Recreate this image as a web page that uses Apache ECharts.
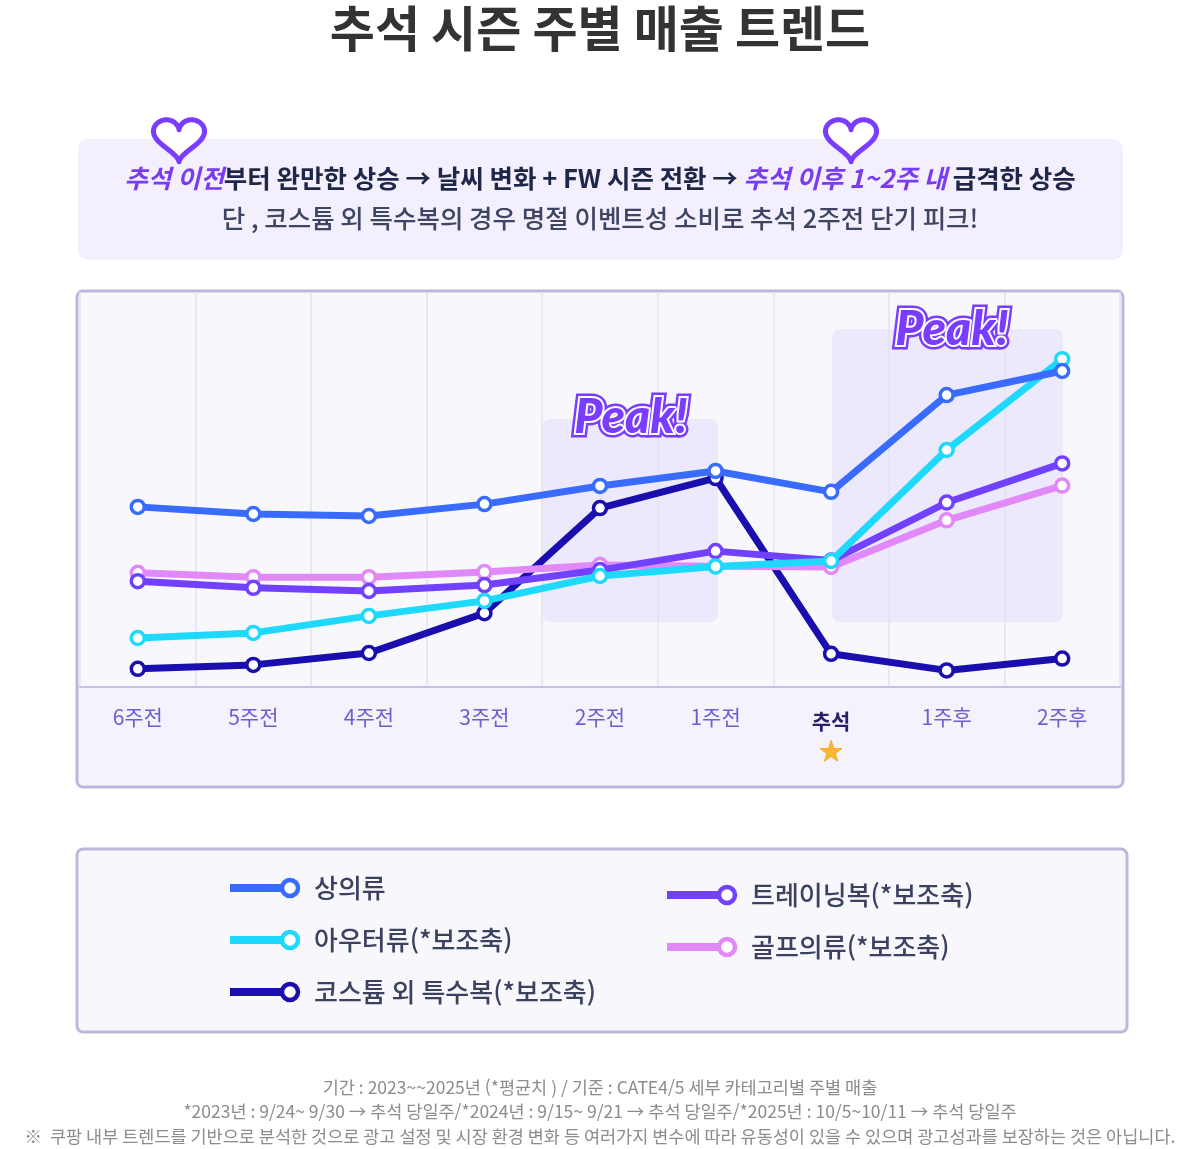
<!DOCTYPE html>
<html lang="ko">
<head>
<meta charset="UTF-8">
<title>추석 시즌 주별 매출 트렌드</title>
<script src="https://cdn.jsdelivr.net/npm/echarts@6/dist/echarts.min.js"></script>
<style>
  html, body { margin: 0; padding: 0; background: #fff; }
  #chart { width: 1200px; height: 1149px; }
</style>
</head>
<body>
<div id="chart"></div>
<script>
// 주차 (x축)
var weeks = ['6주전', '5주전', '4주전', '3주전', '2주전', '1주전', '추석', '1주후', '2주후'];

// 상대 지수 (그림에서 읽은 값, 0~100)
var topsData     = [45.6, 43.8, 43.3, 46.3, 50.9, 54.7, 49.4, 73.9, 80.0];
var outerData    = [12.4, 13.7, 18.0, 21.8, 28.1, 30.5, 31.9, 60.0, 83.0];
var costumeData  = [4.6, 5.6, 8.6, 18.7, 45.3, 52.9, 8.4, 4.2, 7.2];
var trainingData = [26.8, 25.1, 24.3, 25.8, 29.6, 34.4, 32.0, 46.7, 56.6];
var golfData     = [28.9, 27.8, 27.8, 29.1, 30.9, 30.6, 30.4, 42.2, 51.0];

var seriesNames  = ['상의류', '아우터류(*보조축)', '코스튬 외 특수복(*보조축)', '트레이닝복(*보조축)', '골프의류(*보조축)'];
var seriesColors = ['#3a6bff', '#1ed9fc', '#1a0fae', '#7141ff', '#e189f8'];
var seriesZ      = [6, 5, 2, 4, 3];
var seriesData   = [topsData, outerData, costumeData, trainingData, golfData];

var FONT = '"Noto Sans CJK KR", "Noto Sans", sans-serif';

var myChart = echarts.init(document.getElementById('chart'));

var series = seriesNames.map(function (name, i) {
    return {
        name: name,
        type: 'line',
        data: seriesData[i],
        z: seriesZ[i],
        symbol: 'circle',
        symbolSize: 13,
        lineStyle: { color: seriesColors[i], width: 7 },
        itemStyle: { color: '#fff', borderColor: seriesColors[i], borderWidth: 3.5 },
        emphasis: { disabled: true }
    };
});

// 하트 아이콘 (외곽선)
function heart(cx, cy) {
    var pts = [];
    for (var k = 0; k <= 72; k++) {
        var t = k / 72 * Math.PI * 2;
        var hx = 16 * Math.pow(Math.sin(t), 3);
        var hy = 13 * Math.cos(t) - 5 * Math.cos(2 * t) - 2 * Math.cos(3 * t) - Math.cos(4 * t);
        pts.push([cx + hx * 1.6, cy - hy * 1.45]);
    }
    return {
        type: 'polygon',
        shape: { points: pts },
        style: { fill: '#fff', stroke: '#7a3cff', lineWidth: 5, lineJoin: 'round' },
        z: 20
    };
}

// Peak! 텍스트 (외곽선 2겹)
function peak(x, y) {
    var font = { text: 'Peak!', fontFamily: 'Lato, "Open Sans", sans-serif', fontWeight: 900,
                 fontStyle: 'italic', fontSize: 48, align: 'center', verticalAlign: 'middle' };
    return [
        { type: 'text', x: x, y: y, z: 30, style: Object.assign({ fill: '#7a3cff', stroke: '#7a3cff', lineWidth: 9 }, font) },
        { type: 'text', x: x, y: y, z: 31, style: Object.assign({ fill: '#7a3cff', stroke: '#fff', lineWidth: 4 }, font) }
    ];
}

// 범례 항목
var legendPos = [[230, 888], [230, 940], [230, 992], [667, 895], [667, 947]];
var legendItems = [];
seriesNames.forEach(function (name, i) {
    var p = legendPos[i];
    legendItems.push({ type: 'rect', shape: { x: p[0], y: p[1] - 4, width: 60, height: 8 },
        style: { fill: seriesColors[i] }, z: 20 });
    legendItems.push({ type: 'circle', shape: { cx: p[0] + 60, cy: p[1], r: 8 },
        style: { fill: '#fff', stroke: seriesColors[i], lineWidth: 4.5 }, z: 21 });
    legendItems.push({ type: 'text', x: p[0] + 84, y: p[1],
        style: { text: name, fontFamily: FONT, fontSize: 26, fontWeight: 500, fill: '#3b4260',
                 verticalAlign: 'middle' }, z: 21 });
});

var graphics = [
    // 제목
    { type: 'text', x: 600, y: 28, style: { text: '추석 시즌 주별 매출 트렌드', fontFamily: FONT,
        fontSize: 49, fontWeight: 'bold', fill: '#333', align: 'center', verticalAlign: 'middle' } },
    // 설명 박스
    { type: 'rect', shape: { x: 78, y: 139, width: 1045, height: 121, r: 10 }, style: { fill: '#f3effd' }, z: 1 },
    heart(179, 137),
    heart(851, 137),
    { type: 'text', x: 600, y: 178, z: 10, style: {
        text: '{p|추석 이전}부터 완만한 상승 → 날씨 변화 + FW 시즌 전환 → {p|추석 이후 1~2주 내} 급격한 상승',
        fontFamily: FONT, fontSize: 25.5, fontWeight: 'bold', fill: '#1f2748', align: 'center', verticalAlign: 'middle',
        rich: { p: { fontFamily: FONT, fontSize: 25.5, fontWeight: 'bold', fontStyle: 'italic', fill: '#7a3cf0' } } } },
    { type: 'text', x: 600, y: 218, z: 10, style: {
        text: '단 , 코스튬 외 특수복의 경우 명절 이벤트성 소비로 추석 2주전 단기 피크!',
        fontFamily: FONT, fontSize: 25.5, fontWeight: 500, fill: '#3d4563', align: 'center', verticalAlign: 'middle' } },
    // 차트 패널
    { type: 'rect', shape: { x: 77, y: 291, width: 1046, height: 496, r: 6 },
      style: { fill: '#f8f8fc', stroke: '#bdb7dc', lineWidth: 3 }, z: -10 },
    { type: 'rect', shape: { x: 79, y: 688, width: 1042, height: 97, r: [0, 0, 5, 5] },
      style: { fill: '#f4f2fd' }, z: -9 },
    // Peak 영역
    { type: 'rect', shape: { x: 542, y: 419, width: 176, height: 203, r: 8 },
      style: { fill: 'rgba(225, 220, 252, 0.55)' }, z: -5 },
    { type: 'rect', shape: { x: 832, y: 329, width: 231, height: 293, r: 8 },
      style: { fill: 'rgba(225, 220, 252, 0.55)' }, z: -5 },
    // 범례 패널
    { type: 'rect', shape: { x: 77, y: 849, width: 1050, height: 183, r: 6 },
      style: { fill: '#f8f8fc', stroke: '#bdb7dc', lineWidth: 3 }, z: 1 },
    // 하단 주석
    { type: 'text', x: 600, y: 1087, style: { text: '기간 : 2023~~2025년 (*평균치 ) / 기준 : CATE4/5 세부 카테고리별 주별 매출',
        fontFamily: FONT, fontSize: 17.5, fill: '#8c8c8c', align: 'center', verticalAlign: 'middle' } },
    { type: 'text', x: 600, y: 1111, style: { text: '*2023년 : 9/24~ 9/30 → 추석 당일주/*2024년 : 9/15~ 9/21 → 추석 당일주/*2025년 : 10/5~10/11 → 추석 당일주',
        fontFamily: FONT, fontSize: 17.5, fill: '#8c8c8c', align: 'center', verticalAlign: 'middle' } },
    { type: 'text', x: 600, y: 1136, style: { text: '※  쿠팡 내부 트렌드를 기반으로 분석한 것으로 광고 설정 및 시장 환경 변화 등 여러가지 변수에 따라 유동성이 있을 수 있으며 광고성과를 보장하는 것은 아닙니다.',
        fontFamily: FONT, fontSize: 17.5, fill: '#8c8c8c', align: 'center', verticalAlign: 'middle' } }
].concat(peak(631, 418), peak(952, 330), legendItems);

var option = {
    animation: false,
    backgroundColor: '#fff',
    grid: { left: 80, right: 80, top: 292, bottom: 462 },
    xAxis: {
        type: 'category',
        data: weeks,
        boundaryGap: true,
        axisLine: { lineStyle: { color: '#c6c0e2', width: 2 } },
        axisTick: { show: false },
        splitLine: { show: true, lineStyle: { color: '#e4e2ef', width: 1.5 } },
        axisLabel: {
            margin: 20,
            fontFamily: FONT,
            fontSize: 21,
            color: '#6b60cf',
            formatter: function (v) {
                return v === '추석' ? '{b|' + v + '}\n{s|★}' : v;
            },
            rich: {
                b: { fontFamily: FONT, fontSize: 21, fontWeight: 'bold', color: '#2a1f68', lineHeight: 28 },
                s: { fontFamily: 'DejaVu Sans', fontSize: 28, color: '#f7b731', lineHeight: 38,
                     textBorderColor: '#f0a020', textBorderWidth: 1 }
            }
        }
    },
    yAxis: { type: 'value', min: 0, max: 100, show: false, splitLine: { show: false } },
    graphic: graphics,
    series: series
};

myChart.setOption(option);
</script>
</body>
</html>
